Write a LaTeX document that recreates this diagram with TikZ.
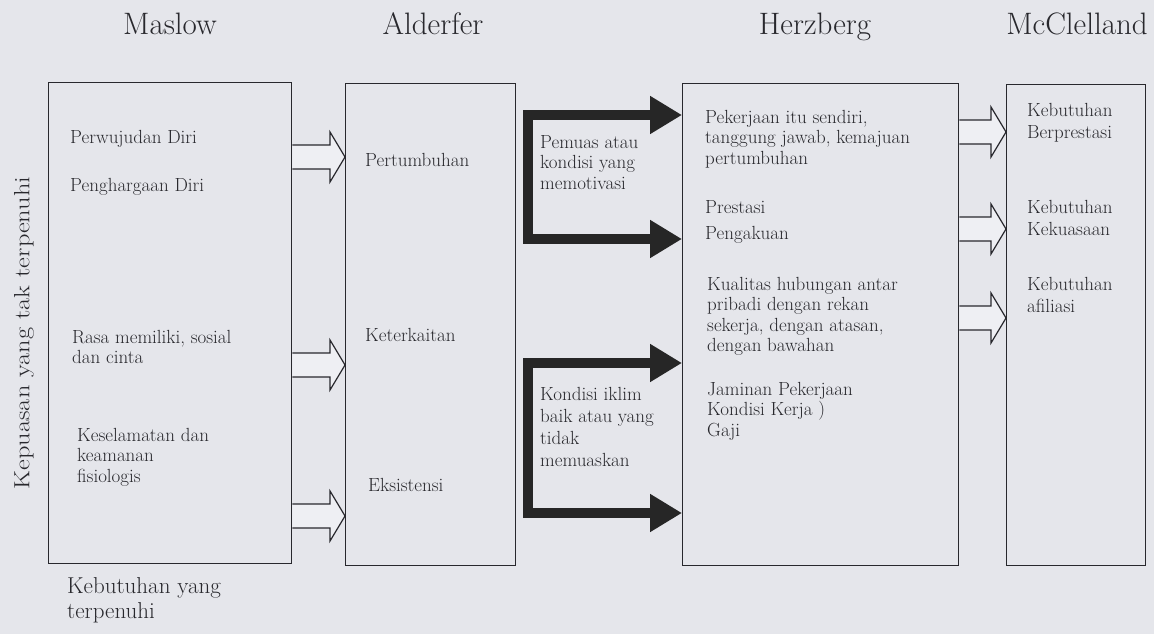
\documentclass[tikz,border=0pt]{standalone}
\usepackage{fontspec}
\usetikzlibrary{arrows.meta,calc}
\definecolor{paper}{RGB}{229,230,235}
\definecolor{arrowfill}{RGB}{238,239,243}
\definecolor{ink}{RGB}{40,40,45}
\tikzset{
  box/.style={draw=ink, line width=1.4pt, inner sep=0pt, anchor=north west},
  head/.style={font=\fontsize{31}{34}\selectfont, text=ink, inner sep=0pt, anchor=base},
  txt/.style={font=\fontsize{19}{20.5}\selectfont, text=ink, align=left, anchor=north west, inner sep=0pt},
  openarrow/.style={draw=ink, line width=1.2pt, fill=arrowfill},
  bracket/.style={draw=black!85, line width=10pt,
    {Triangle[width=36pt,length=32pt]}-{Triangle[width=36pt,length=32pt]}},
}
% hollow block arrow from #1 (box edge) to #2 (tip)
\newcommand{\openarrow}[2]{%
  \draw[openarrow] ($(#1)+(0,-12)$) -- ($(#2)+(-15,-12)$) -- ($(#2)+(-15,-25)$) -- (#2)
    -- ($(#2)+(-15,25)$) -- ($(#2)+(-15,12)$) -- ($(#1)+(0,12)$);}
\begin{document}
\begin{tikzpicture}[x=1pt,y=-1pt]
\useasboundingbox (0,0) rectangle (1154,634);
\fill[paper] (0,0) rectangle (1154,634);
% headings
\node[head] (hmaslow) at (170,35) {Maslow};
\node[head] (halderfer) at (433,35) {Alderfer};
\node[head] (hherzberg) at (815,35) {Herzberg};
\node[head] (hmcc) at (1077,35) {McClelland};
% columns
\node[box, minimum width=243pt, minimum height=481pt] (maslow) at (48,82) {};
\node[box, minimum width=170pt, minimum height=482pt] (alderfer) at (345,83) {};
\node[box, minimum width=276pt, minimum height=482pt] (herz) at (682,83) {};
\node[box, minimum width=139pt, minimum height=481pt] (mcc) at (1006,84) {};
% Maslow
\node[txt] (perwujudan) at (70,130) {Perwujudan Diri};
\node[txt] (penghargaan) at (70,178) {Penghargaan Diri};
\node[txt] (rasa) at (72,330) {Rasa memiliki, sosial\\dan cinta};
\node[txt] (selamat) at (77,428) {Keselamatan dan\\keamanan\\fisiologis};
\node[txt, font=\fontsize{23}{25.5}\selectfont] (terpenuhi) at (67,577) {Kebutuhan yang\\terpenuhi};
\node[rotate=90, text=ink, inner sep=0pt, font=\fontsize{22}{24}\selectfont] (takpenuh) at (24,333)
  {\scalebox{1.2}[1]{Kepuasan yang tak terpenuhi}};
% Alderfer
\node[txt] (tumbuh) at (365,153) {Pertumbuhan};
\node[txt] (kait) at (365,328) {Keterkaitan};
\node[txt] (eksis) at (368,478) {Eksistensi};
% between Alderfer and Herzberg
\node[txt] (pemuas) at (540,135) {Pemuas atau\\kondisi yang\\memotivasi};
\node[txt, font=\fontsize{19}{22}\selectfont] (iklim) at (540,387)
  {Kondisi iklim\\baik atau yang\\tidak\\memuaskan};
% Herzberg
\node[txt] (kerja) at (705,110) {Pekerjaan itu sendiri,\\tanggung jawab, kemajuan\\pertumbuhan};
\node[txt, font=\fontsize{19}{26}\selectfont] (prestasi) at (705,200) {Prestasi\\Pengakuan};
\node[txt] (kualitas) at (707,277)
  {Kualitas hubungan antar\\pribadi dengan rekan\\sekerja, dengan atasan,\\dengan bawahan};
\node[txt] (jaminan) at (707,382) {Jaminan Pekerjaan\\Kondisi Kerja )\\Gaji};
% McClelland
\node[txt, font=\fontsize{19}{22}\selectfont] (berprestasi) at (1027,103) {Kebutuhan\\Berprestasi};
\node[txt, font=\fontsize{19}{22}\selectfont] (kuasa) at (1027,200) {Kebutuhan\\Kekuasaan};
\node[txt, font=\fontsize{19}{22}\selectfont] (afiliasi) at (1027,277) {Kebutuhan\\afiliasi};
% hollow arrows
\foreach \y [count=\i] in {157,365,516} {
  \coordinate (ml\i) at (maslow.east |- 0,\y);
  \coordinate (al\i) at (alderfer.west |- 0,\y);
  \openarrow{ml\i}{al\i}
}
\foreach \y [count=\i] in {132,229,318} {
  \coordinate (hr\i) at (herz.east |- 0,\y);
  \coordinate (mc\i) at (mcc.west |- 0,\y);
  \openarrow{hr\i}{mc\i}
}
% thick bracket arrows
\coordinate (pu1) at (herz.west |- 0,115);
\coordinate (pu2) at (herz.west |- 0,239);
\coordinate (cu) at (528,239);
\coordinate (pl1) at (herz.west |- 0,363);
\coordinate (pl2) at (herz.west |- 0,513);
\coordinate (cl) at (528,513);
\draw[bracket] (pu1) -| (cu) -- (pu2);
\draw[bracket] (pl1) -| (cl) -- (pl2);
\end{tikzpicture}
\end{document}
